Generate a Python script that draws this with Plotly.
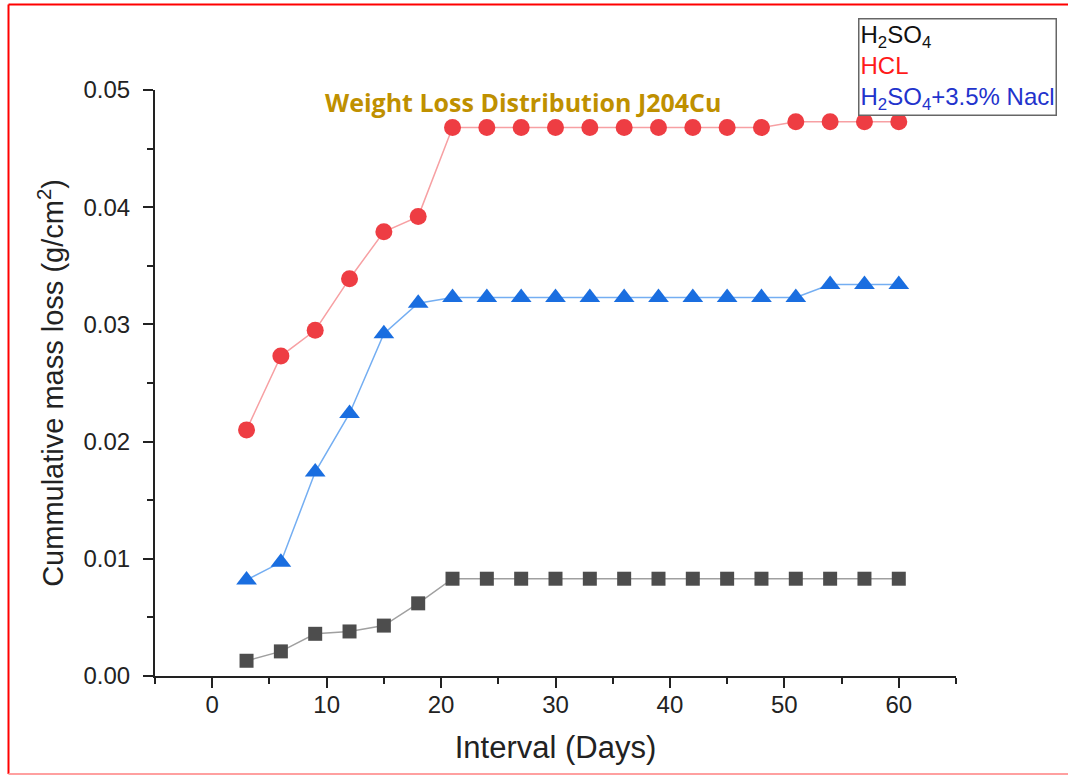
import plotly.graph_objects as go

days = [3, 6, 9, 12, 15, 18, 21, 24, 27, 30, 33, 36, 39, 42, 45, 48, 51, 54, 57, 60]
h2so4 = [0.0013, 0.0021, 0.0036, 0.0038, 0.0043, 0.0062, 0.0083, 0.0083, 0.0083, 0.0083,
         0.0083, 0.0083, 0.0083, 0.0083, 0.0083, 0.0083, 0.0083, 0.0083, 0.0083, 0.0083]
hcl = [0.0210, 0.0273, 0.0295, 0.0339, 0.0379, 0.0392, 0.0468, 0.0468, 0.0468, 0.0468,
       0.0468, 0.0468, 0.0468, 0.0468, 0.0468, 0.0468, 0.0473, 0.0473, 0.0473, 0.0473]
h2so4_nacl = [0.0082, 0.0097, 0.0174, 0.0224, 0.0292, 0.0318, 0.0323, 0.0323, 0.0323, 0.0323,
              0.0323, 0.0323, 0.0323, 0.0323, 0.0323, 0.0323, 0.0323, 0.0334, 0.0334, 0.0334]

x_ticks = [0, 10, 20, 30, 40, 50, 60]
y_ticks = [0.00, 0.01, 0.02, 0.03, 0.04, 0.05]
y_tick_labels = ["0.00", "0.01", "0.02", "0.03", "0.04", "0.05"]

fig = go.Figure()
fig.add_trace(go.Scatter(x=days, y=h2so4, mode="lines+markers", name="H2SO4",
                         line=dict(color="#A0A0A0", width=1.5),
                         marker=dict(symbol="square", size=14, color="#4D4D4D")))
fig.add_trace(go.Scatter(x=days, y=hcl, mode="lines+markers", name="HCL",
                         line=dict(color="#F7A0A3", width=1.5),
                         marker=dict(symbol="circle", size=17, color="#EE3D43")))
fig.add_trace(go.Scatter(x=days, y=h2so4_nacl, mode="lines+markers", name="H2SO4+3.5% Nacl",
                         line=dict(color="#74AEF2", width=1.5),
                         marker=dict(symbol="triangle-up", size=18, color="#1A6EE0")))

W, H = 1068, 775
L, R, T, B = 155, 112, 90, 99
pw, ph = W - L - R, H - T - B


def px(xp):
    return (xp - L) / pw


def py(yp):
    return (H - B - yp) / ph


axis_common = dict(showline=True, linecolor="#222222", linewidth=2, ticks="outside",
                   ticklen=10, tickwidth=2, tickcolor="#222222", showgrid=False,
                   zeroline=False, tickfont=dict(family="Liberation Sans, Arial", size=24, color="#222222"))

fig.update_xaxes(range=[-5, 65], tickvals=x_ticks, ticklabelstandoff=-4,
                 minor=dict(ticks="outside", ticklen=6, tickwidth=2, tickcolor="#222222",
                            tickvals=[-5, 5, 15, 25, 35, 45, 55, 65]),
                 title=dict(text="Interval (Days)", standoff=20,
                            font=dict(family="Liberation Sans, Arial", size=31, color="#222222")),
                 **axis_common)
fig.update_yaxes(range=[0, 0.05], tickvals=y_ticks, ticktext=y_tick_labels, ticklabelstandoff=8,
                 minor=dict(ticks="outside", ticklen=6, tickwidth=2, tickcolor="#222222",
                            tickvals=[0.005, 0.015, 0.025, 0.035, 0.045]),
                 title=dict(text="Cummulative mass loss (g/cm<sup>2</sup>)", standoff=11,
                            font=dict(family="Liberation Sans, Arial", size=29, color="#222222")),
                 **axis_common)

fig.add_annotation(x=px(523), y=py(102), xref="paper", yref="paper", showarrow=False,
                   xanchor="center", yanchor="middle",
                   text="<b>Weight Loss Distribution J204Cu</b>",
                   font=dict(family="Open Sans", size=25, color="#BF9000"))

legend_text = ("<span style='color:#111111'>H<sub>2</sub>SO<sub>4</sub></span><br>"
               "<span style='color:#FF1A1A'>HCL</span><br>"
               "<span style='color:#2233CC'>H<sub>2</sub>SO<sub>4</sub>+3.5% Nacl</span>")
fig.add_annotation(x=px(858), y=py(18), xref="paper", yref="paper", xanchor="left", yanchor="top",
                   showarrow=False, align="left", text=legend_text,
                   font=dict(family="Liberation Sans, Arial", size=24),
                   bordercolor="#666666", borderwidth=1.5, borderpad=1, bgcolor="white")

# outer frame
fig.add_shape(type="line", xref="paper", yref="paper", x0=px(8.5), x1=px(8.5), y0=py(774), y1=py(4.5),
              line=dict(color="#FF0000", width=2))
fig.add_shape(type="line", xref="paper", yref="paper", x0=px(8.5), x1=px(1068), y0=py(4.5), y1=py(4.5),
              line=dict(color="#FF0000", width=2))
fig.add_shape(type="line", xref="paper", yref="paper", x0=px(8.5), x1=px(1068), y0=py(774), y1=py(774),
              line=dict(color="#FFA0A0", width=2))

fig.update_layout(width=W, height=H, margin=dict(l=L, r=R, t=T, b=B),
                  plot_bgcolor="white", paper_bgcolor="white", showlegend=False)

fig.write_html("out.html")
